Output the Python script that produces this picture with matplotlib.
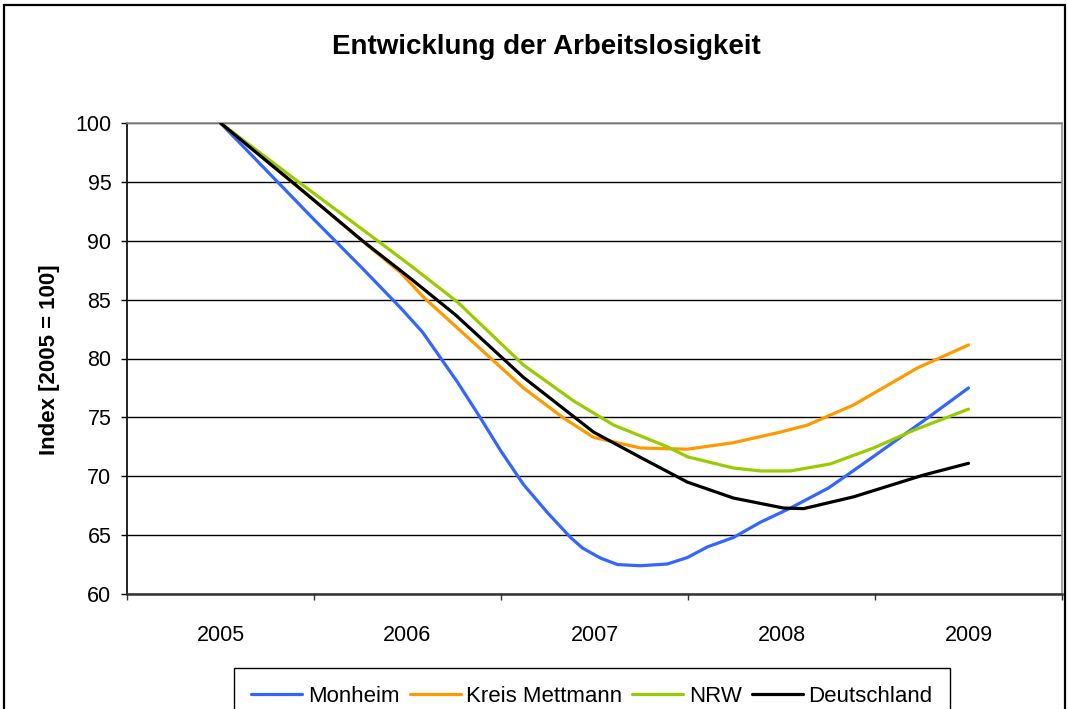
import matplotlib
matplotlib.use('Agg')
import matplotlib.pyplot as plt
from matplotlib.patches import Rectangle

plt.rcParams['font.family'] = ['Liberation Sans', 'DejaVu Sans']

# ---- data ----
years = ['2005', '2006', '2007', '2008', '2009']
# each series: x = time in years after 2005, y = index value
monheim_x = [0.0, 0.25, 0.5, 0.75, 0.963, 1.08, 1.267, 1.39, 1.497, 1.62,
             1.749, 1.872, 1.936, 2.032, 2.123, 2.246, 2.39, 2.497, 2.604,
             2.743, 2.888, 3.048, 3.251, 3.369, 3.503, 3.781, 4.0]
monheim = [100, 95.9, 91.8, 87.8, 84.3, 82.25, 78.0, 74.95, 72.2, 69.3,
           66.9, 64.8, 63.9, 63.05, 62.5, 62.4, 62.55, 63.1, 64.0,
           64.8, 66.1, 67.3, 69.0, 70.3, 71.8, 74.95, 77.5]
kreis_x = [0.0, 0.251, 0.503, 0.749, 0.963, 1.086, 1.62, 1.834, 1.995,
           2.246, 2.497, 2.743, 2.995, 3.139, 3.385, 3.727, 4.0]
kreis_mettmann = [100, 96.7, 93.4, 90.1, 87.3, 85.2, 77.5, 74.95, 73.3,
                  72.4, 72.3, 72.85, 73.75, 74.35, 76.05, 79.2, 81.15]
nrw_x = [0.0, 0.417, 0.84, 1.016, 1.267, 1.62, 1.888, 2.102, 2.39, 2.497,
         2.743, 2.888, 3.048, 3.262, 3.492, 3.706, 4.0]
nrw = [100, 95.0, 90.0, 87.9, 84.8, 79.45, 76.4, 74.35, 72.5, 71.65,
       70.7, 70.45, 70.45, 71.05, 72.4, 73.9, 75.7]
deutschland_x = [0.0, 0.39, 0.759, 1.016, 1.257, 1.62, 1.995, 2.246, 2.497,
                 2.743, 3.011, 3.118, 3.385, 3.759, 4.0]
deutschland = [100, 94.9, 90.0, 86.8, 83.7, 78.4, 73.75, 71.6, 69.5,
               68.15, 67.3, 67.25, 68.25, 70.1, 71.1]
series_names = ['Monheim', 'Kreis Mettmann', 'NRW', 'Deutschland']
series_colors = ['#3366FF', '#FF9900', '#99CC00', '#000000']
y_ticks = [60, 65, 70, 75, 80, 85, 90, 95, 100]

W, H = 1068, 709
fig = plt.figure(figsize=(W / 100, H / 100), dpi=100)
fig.patch.set_facecolor('white')

# outer chart border (bottom cut off by image edge)
fig.patches.append(Rectangle((4 / W, -0.05), (1065 - 4) / W, 1 - 5 / H + 0.05,
                             transform=fig.transFigure, fill=False,
                             lw=1.6, ec='black'))

ax = fig.add_axes([127 / W, 1 - 594 / H, (1062 - 127) / W, (594 - 123) / H])

handles = []
for xs, vals, name, col in zip(
        [monheim_x, kreis_x, nrw_x, deutschland_x],
        [monheim, kreis_mettmann, nrw, deutschland],
        series_names, series_colors):
    h, = ax.plot(xs, vals, color=col, lw=2.3, label=name,
                 solid_joinstyle='round', solid_capstyle='round', zorder=3)
    handles.append(h)

ax.set_xlim(-0.5, 4.5)
ax.set_ylim(60, 100)

ax.set_yticks(y_ticks)
ax.set_yticklabels([str(v) for v in y_ticks])
ax.set_xticks(range(len(years)))
ax.set_xticklabels(years)
ax.set_xticks([i - 0.5 for i in range(len(years) + 1)], minor=True)

ax.tick_params(axis='y', which='major', direction='out', length=4.3,
               width=1, color='black', labelsize=15.5, pad=7)
ax.tick_params(axis='x', which='major', length=0, labelsize=15.5, pad=22)
ax.tick_params(axis='x', which='minor', direction='out', length=4.3,
               width=1, color='#333333')

ax.set_axisbelow(True)
ax.yaxis.grid(True, color='black', lw=1.0)
ax.xaxis.grid(False)

ax.spines['top'].set_color('#909090')
ax.spines['right'].set_color('#909090')
ax.spines['top'].set_linewidth(1.2)
ax.spines['right'].set_linewidth(1.2)
ax.spines['left'].set_color('#111111')
ax.spines['left'].set_linewidth(1.3)
ax.spines['bottom'].set_color('#333333')
ax.spines['bottom'].set_linewidth(1.8)

fig.text(50 / W, 1 - 360 / H, 'Index [2005 = 100]', rotation=90,
         ha='center', va='center', fontsize=16, fontweight='bold')
fig.text(546 / W, 1 - 47 / H, 'Entwicklung der Arbeitslosigkeit',
         ha='center', va='center', fontsize=20, fontweight='bold')

leg = fig.legend(handles, series_names, loc='upper center',
                 bbox_to_anchor=(592 / W, 1 - 668 / H), ncol=4,
                 frameon=True, fancybox=False, edgecolor='black',
                 framealpha=1, borderpad=0.8, handlelength=2.3,
                 handletextpad=0.25, columnspacing=0.45, fontsize=16,
                 borderaxespad=0)
leg.get_frame().set_linewidth(1.0)
for lh in leg.get_lines():
    lh.set_linewidth(2.3)

fig.savefig('out.png', dpi=100)
